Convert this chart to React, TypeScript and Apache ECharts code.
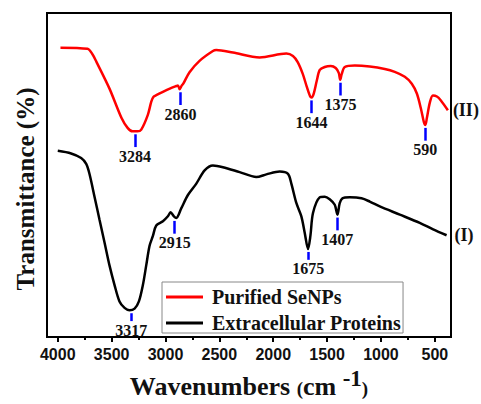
import React, { useEffect, useRef } from "react";
import * as echarts from "echarts";

// Wavenumbers (cm^-1) and transmittance (arbitrary units)
const redWave = [3975, 3724, 3678, 3640, 3520, 3408, 3352, 3306, 3260, 3225, 3164, 3132, 3111, 3086, 3024, 2960, 2900, 2885, 2869, 2850, 2835, 2777, 2684, 2560, 2529, 2374, 2126, 1878, 1817, 1773, 1726, 1689, 1657, 1643, 1624, 1596, 1568, 1522, 1466, 1420, 1392, 1378, 1364, 1336, 1243, 1104, 965, 872, 779, 714, 667, 630, 602, 588, 574, 546, 518, 481, 444, 379];
const redT = [294.7, 293.5, 288, 280, 253, 223, 213, 209.5, 209.5, 211.3, 226.3, 239.7, 244.7, 246.3, 249.7, 253, 255.7, 256.3, 252.3, 256, 258, 269.7, 281.3, 291.3, 292.3, 289.7, 284.7, 288.7, 286.3, 280, 268, 255, 245, 244, 248, 261, 272, 275, 276, 274, 269, 262, 268, 275, 276.5, 275.5, 273, 270, 265, 258, 248, 233, 219, 216, 223, 239, 246, 245, 241, 231];

const blackWave = [4000, 3876, 3783, 3736, 3706, 3659, 3613, 3566, 3520, 3473, 3427, 3380, 3334, 3287, 3247, 3210, 3179, 3148, 3117, 3086, 3024, 2978, 2953, 2922, 2900, 2853, 2792, 2714, 2637, 2560, 2467, 2312, 2157, 2064, 1940, 1863, 1832, 1785, 1739, 1708, 1677, 1655, 1631, 1569, 1522, 1476, 1429, 1404, 1383, 1358, 1290, 1181, 1104, 1011, 825, 640, 516, 391];
const blackT = [189.7, 187, 182.3, 176.3, 166.3, 143, 119.7, 96.3, 73, 53, 36.3, 29.7, 27.3, 29, 36.3, 53, 73, 93, 103, 113.7, 118, 123, 127, 123, 121.3, 131.3, 144.7, 156.3, 169.7, 174.7, 173, 168, 163, 165.7, 168.7, 166.3, 156.3, 136.3, 123, 106.3, 89.7, 103, 126.3, 142.3, 143, 140.3, 134.7, 124.7, 136.3, 141.3, 142.3, 141.3, 138, 133, 124.7, 116.3, 109.7, 103.7];

// Labelled absorption bands and the transmittance at each dip
const redPeaks = [3284, 2860, 1644, 1375, 590];
const redPeakT = [209.5, 252.3, 244, 262, 216];
const blackPeaks = [3317, 2915, 1675, 1407];
const blackPeakT = [27.3, 121.3, 89.7, 124.7];

const majorTicks = [4000, 3500, 3000, 2500, 2000, 1500, 1000, 500];
const minorTicks = [3750, 3250, 2750, 2250, 1750, 1250, 750];

const seriesNames = ["Purified SeNPs", "Extracellular Proteins"];
const curveTags = ["(II)", "(I)"];

const SERIF = "'Liberation Serif', 'Times New Roman', serif";
const SANS = "'Liberation Sans', Arial, sans-serif";

function zip(a: number[], b: number[]) {
  return a.map((v, i) => [v, b[i]]);
}

function peakMarks(waves: number[], ts: number[], shortOnes: number[]) {
  return waves.map((w, i) => {
    const len = shortOnes.includes(w) ? 8 : 13;
    const top = ts[i] - 3;
    return [
      { coord: [w, top], name: String(w) },
      { coord: [w, top - len] },
    ];
  });
}

const markLineBase = {
  silent: true,
  symbol: ["none", "none"],
  animation: false,
  lineStyle: { color: "#0000ff", width: 2.5, type: "solid" },
  emphasis: { disabled: true },
  label: {
    show: true,
    position: "end",
    distance: 1,
    formatter: (p: any) => p.name,
    fontFamily: SERIF,
    fontWeight: "bold",
    fontSize: 16,
    color: "#111",
  },
};

function tagMark(wave: number[], t: number[], tag: string, dist: number) {
  const last = wave.length - 1;
  return {
    silent: true,
    animation: false,
    symbol: "circle",
    symbolSize: 0,
    itemStyle: { color: "transparent" },
    label: {
      show: true,
      position: "right",
      distance: dist,
      formatter: tag,
      fontFamily: SERIF,
      fontWeight: "bold",
      fontSize: 18,
      color: "#111",
    },
    data: [{ coord: [wave[last], t[last]] }],
  };
}

export default function App() {
  const ref = useRef<HTMLDivElement>(null);
  useEffect(() => {
    if (!ref.current) return;
    const chart = echarts.init(ref.current, null, { renderer: "svg" });
    chart.setOption({
      animation: false,
      backgroundColor: "#fff",
      grid: {
        left: 47,
        right: 30,
        top: 13,
        bottom: 61,
        show: true,
        borderColor: "#000",
        borderWidth: 2,
        backgroundColor: "transparent",
      },
      legend: {
        orient: "vertical",
        left: 162,
        top: 282,
        data: seriesNames,
        icon: "rect",
        itemWidth: 37,
        itemHeight: 3,
        itemGap: 6,
        padding: [5, 2, 0, 4],
        borderColor: "#888",
        borderWidth: 1,
        backgroundColor: "#fff",
        textStyle: {
          fontFamily: SERIF,
          fontWeight: "bold",
          fontSize: 20,
          color: "#111",
          padding: [0, 0, 0, 4],
        },
      },
      xAxis: [
        {
          type: "value",
          inverse: true,
          min: 350,
          max: 4100,
          position: "bottom",
          axisLine: { show: true, lineStyle: { color: "#000", width: 2 } },
          axisTick: {
            show: true,
            customValues: majorTicks,
            length: 5,
            inside: false,
            lineStyle: { color: "#000", width: 2 },
          },
          axisLabel: {
            customValues: majorTicks,
            formatter: (v: number) => String(v),
            margin: 9,
            fontFamily: SANS,
            fontWeight: "bold",
            fontSize: 16,
            color: "#111",
          },
          splitLine: { show: false },
          name: "{a|Wavenumbers }{p|(}{a|cm }{s|-1}{p|)}",
          nameLocation: "middle",
          nameGap: 27,
          nameTextStyle: {
            rich: {
              a: {
                fontFamily: SERIF,
                fontWeight: "bold",
                fontSize: 26,
                color: "#111",
                verticalAlign: "bottom",
              },
              p: {
                fontFamily: SERIF,
                fontWeight: "bold",
                fontSize: 19,
                color: "#111",
                verticalAlign: "bottom",
                padding: [0, 0, 1, 0],
              },
              s: {
                fontFamily: SERIF,
                fontWeight: "bold",
                fontSize: 23,
                color: "#111",
                verticalAlign: "bottom",
                padding: [0, 0, 9, 0],
              },
            },
          },
        },
        {
          type: "value",
          inverse: true,
          min: 350,
          max: 4100,
          position: "bottom",
          axisLine: { show: false },
          axisTick: {
            show: true,
            customValues: minorTicks,
            length: 3,
            inside: false,
            lineStyle: { color: "#000", width: 2 },
          },
          axisLabel: { show: false },
          splitLine: { show: false },
        },
      ],
      yAxis: {
        type: "value",
        min: 0,
        max: 330,
        axisLine: { show: false },
        axisTick: { show: false },
        axisLabel: { show: false },
        splitLine: { show: false },
      },
      graphic: [
        {
          type: "text",
          x: 25,
          y: 189,
          rotation: Math.PI / 2,
          style: {
            text: "Transmittance (%)",
            fontFamily: SERIF,
            fontWeight: "bold",
            fontSize: 25,
            fill: "#111",
            textAlign: "center",
            textVerticalAlign: "middle",
          },
        },
      ],
      series: [
        {
          name: seriesNames[0],
          type: "line",
          xAxisIndex: 0,
          data: zip(redWave, redT),
          showSymbol: false,
          smooth: 0.3,
          lineStyle: { color: "#ff0000", width: 2.5 },
          itemStyle: { color: "#ff0000" },
          emphasis: { disabled: true },
          markLine: { ...markLineBase, data: peakMarks(redPeaks, redPeakT, []) },
          markPoint: tagMark(redWave, redT, curveTags[0], 5),
          z: 3,
        },
        {
          name: seriesNames[1],
          type: "line",
          xAxisIndex: 0,
          data: zip(blackWave, blackT),
          showSymbol: false,
          smooth: 0.3,
          lineStyle: { color: "#000", width: 2.5 },
          itemStyle: { color: "#000" },
          emphasis: { disabled: true },
          markLine: {
            ...markLineBase,
            data: peakMarks(blackPeaks, blackPeakT, [3317, 1675]),
          },
          markPoint: tagMark(blackWave, blackT, curveTags[1], 8),
          z: 2,
        },
      ],
    });
    return () => chart.dispose();
  }, []);
  return <div ref={ref} style={{ width: 481, height: 404, position: "absolute", left: 0, top: 0 }} />;
}
